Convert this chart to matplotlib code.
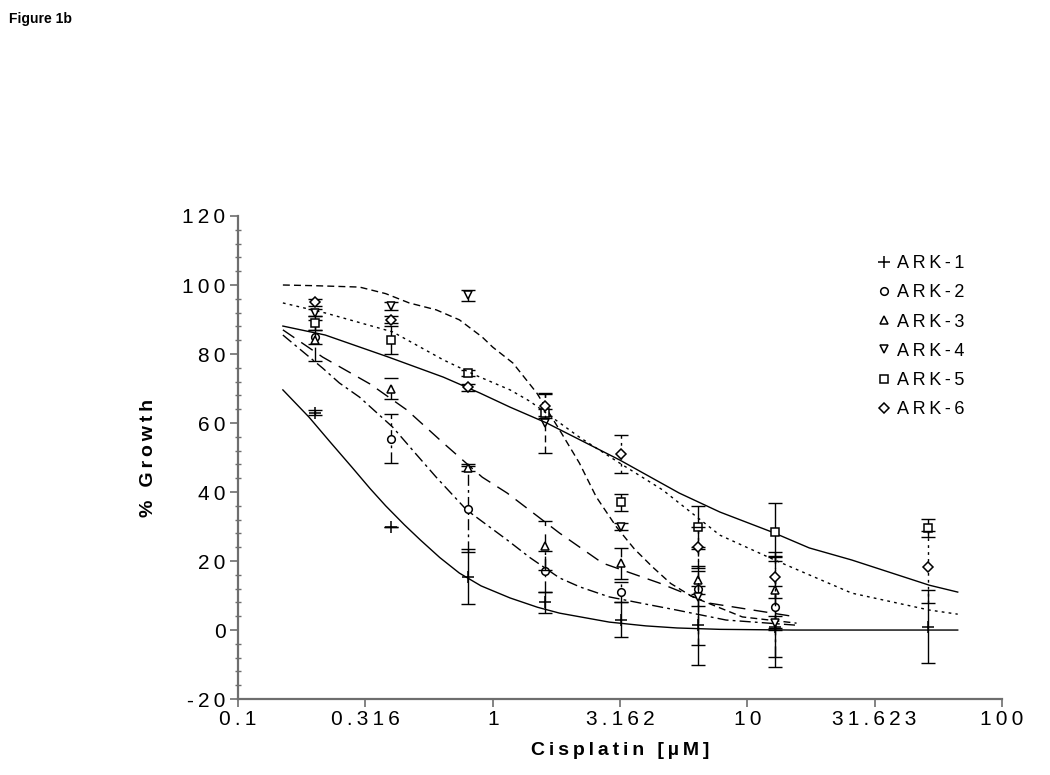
import numpy as np
import matplotlib
matplotlib.use("Agg")
import matplotlib.pyplot as plt
from matplotlib.ticker import FixedLocator, MultipleLocator, NullLocator, FuncFormatter

plt.rcParams['font.family'] = ['Liberation Sans', 'DejaVu Sans']
plt.rcParams['axes.unicode_minus'] = False

# ---- measured points (concentration in uM, % growth, +/- error) ----
conc = [0.2, 0.4, 0.8, 1.6, 3.2, 6.4, 12.8, 51.2]
conc_short = [0.2, 0.4, 0.8, 1.6, 3.2, 6.4, 12.8]

ark1_y = [63, 30, 15.5, 8, 3, 1.4, 1, 1]
ark1_err = [0.7, 0, 8, 3, 5, 11.5, 11.7, 10.5]
ark2_y = [85, 55.5, 35, 17, 11, 12, 6.7]
ark2_err = [2, 7, 12.5, 6, 3, 5, 14.5]
ark3_y = [84, 70, 47, 24.5, 19.4, 14.5, 11.6]
ark3_err = [6, 3, 1, 7, 4.5, 4, 11]
ark4_y = [92, 94, 97, 60, 30, 9.6, 2]
ark4_err = [1, 1.2, 1.5, 8.7, 1, 14, 2]
ark5_y = [89, 84, 74.5, 63, 37, 30, 28.4, 29.6]
ark5_err = [2, 4, 1, 1, 2.5, 6, 8.4, 2.6]
ark6_y = [95, 90, 70.4, 65, 51, 24, 15.4, 18.3]
ark6_err = [1, 1, 1, 3.5, 5.5, 6, 6, 10.5]

# ---- fitted curves ----
ark1_fit_x = [0.15, 0.19, 0.23, 0.28, 0.33, 0.38, 0.45, 0.52, 0.62, 0.74, 0.9, 1.17, 1.5,
              1.83, 2.87, 4.0, 5.3, 7.8, 15, 30, 67]
ark1_fit_y = [69.6, 61.7, 54.5, 47.2, 41, 36, 30.5, 26.1, 21, 16.5, 12.8, 9.3, 6.6,
              4.9, 2.3, 1.2, 0.6, 0.2, 0, 0, 0]
ark2_fit_x = [0.15, 0.215, 0.25, 0.30, 0.405, 0.5, 0.60, 0.79, 1.14, 1.4, 1.83, 2.2, 2.87,
              4.0, 5.27, 8.25, 15.6]
ark2_fit_y = [85.5, 75.9, 71.6, 67.5, 58.8, 51, 44.3, 34.8, 26.1, 21, 15.1, 12.5, 9.6,
              7.5, 5.8, 2.9, 1.4]
ark3_fit_x = [0.15, 0.215, 0.33, 0.46, 0.64, 0.74, 0.91, 1.14, 1.83, 2.70, 4.52, 7.08, 15.6]
ark3_fit_y = [87, 79.1, 71.3, 63.8, 54.2, 50.1, 44.3, 39.7, 28.1, 19.4, 13.6, 7.8, 3.8]
ark4_fit_x = [0.15, 0.2, 0.30, 0.38, 0.47, 0.6, 0.74, 0.91, 1.0, 1.20, 1.49, 1.83, 2.19,
              2.55, 3.06, 3.6, 4.24, 5.0, 6.10, 9.56, 15.6]
ark4_fit_y = [100, 99.8, 99.4, 97.5, 94.8, 92.8, 89.9, 84.9, 82.0, 77.4, 68.7, 58.0, 48.4,
              38.6, 29.9, 23.5, 18.3, 13.5, 9.6, 3.8, 2.0]
ark5_fit_x = [0.15, 0.22, 0.39, 0.64, 0.89, 1.17, 1.63, 3.15, 5.4, 7.8, 12.5, 17.5, 25.7, 51.8, 67]
ark5_fit_y = [88.1, 85.5, 79.1, 73.3, 68.7, 64.6, 60.0, 49.3, 39.7, 34.2, 28.4, 23.8, 20.3, 13.0, 11.0]
ark6_fit_x = [0.15, 0.22, 0.405, 0.64, 0.86, 1.17, 1.40, 2.19, 3.15, 4.65, 6.4, 7.8, 12.8,
              25.7, 51.8, 67]
ark6_fit_y = [94.8, 91.9, 86.4, 78.3, 73.8, 69.6, 66.3, 55.9, 48.4, 40.6, 32.5, 27.5, 20.3,
              10.7, 5.8, 4.6]

labels = ["ARK-1", "ARK-2", "ARK-3", "ARK-4", "ARK-5", "ARK-6"]
x_ticks = [0.1, 0.316, 1, 3.162, 10, 31.623, 100]
x_ticklabels = ["0.1", "0.316", "1", "3.162", "10", "31.623", "100"]


def spaced(s):
    # the original typesetting is letter-spaced
    return "\u2009".join(s)


series = [
    (conc, ark1_y, ark1_err, ark1_fit_x, ark1_fit_y, "+", "-"),
    (conc_short, ark2_y, ark2_err, ark2_fit_x, ark2_fit_y, "o", (0, (8, 3, 2, 3))),
    (conc_short, ark3_y, ark3_err, ark3_fit_x, ark3_fit_y, "^", (0, (10, 6))),
    (conc_short, ark4_y, ark4_err, ark4_fit_x, ark4_fit_y, "v", (0, (5, 3))),
    (conc, ark5_y, ark5_err, ark5_fit_x, ark5_fit_y, "s", "-"),
    (conc, ark6_y, ark6_err, ark6_fit_x, ark6_fit_y, "D", (0, (2, 3))),
]

fig = plt.figure(figsize=(10.5, 7.75), dpi=100)
ax = fig.add_axes([0.2267, 0.098, 0.7276, 0.6233])

handles = []
for (xs, ys, es, fx, fy, mk, ls), lab in zip(series, labels):
    ax.plot(fx, fy, color="black", linewidth=1.0, linestyle=ls)
    eb = ax.errorbar(xs, ys, yerr=es, fmt="none", ecolor="black",
                     elinewidth=1.0, capsize=5, capthick=1.0)
    eb[2][0].set_linestyle(ls)
    ms = 8 if mk == "+" else 5.5
    h, = ax.plot(xs, ys, linestyle="none", marker=mk, markersize=ms,
                 markerfacecolor="white", markeredgecolor="black",
                 markeredgewidth=1.1, label=spaced(lab))
    handles.append(h)

ax.set_xscale("log")
ax.set_xlim(0.1, 100)
ax.set_ylim(-20, 120)
ax.xaxis.set_major_locator(FixedLocator(x_ticks))
ax.xaxis.set_minor_locator(NullLocator())
ax.set_xticklabels([spaced(t) for t in x_ticklabels])
ax.yaxis.set_major_locator(MultipleLocator(20))
ax.yaxis.set_minor_locator(MultipleLocator(4))
ax.yaxis.set_major_formatter(FuncFormatter(lambda v, p: spaced(f"{v:g}")))

for side in ["top", "right"]:
    ax.spines[side].set_visible(False)
for side in ["left", "bottom"]:
    ax.spines[side].set_color("#6e6e6e")
    ax.spines[side].set_linewidth(1.6)

ax.tick_params(axis="both", which="major", labelsize=15, colors="#6e6e6e",
               labelcolor="black", length=6, width=1.2, direction="out")
ax.tick_params(axis="y", which="minor", length=4, width=1.0,
               colors="#6e6e6e", direction="inout")
ax.tick_params(axis="y", which="major", pad=3)
ax.tick_params(axis="x", which="major", pad=2)

ax.set_ylabel(spaced("% Growth"), fontsize=14, fontweight="bold", labelpad=18)
ax.set_xlabel(spaced("Cisplatin [µM]"), fontsize=14, fontweight="bold", labelpad=9)

ax.legend(handles=handles, loc="upper left", bbox_to_anchor=(0.815, 0.953),
          frameon=False, fontsize=13, handlelength=0.8, handletextpad=0.3,
          labelspacing=0.68, markerscale=1.0)

fig.text(0.009, 0.985, "Figure 1b", fontsize=10, fontweight="bold", va="top")

fig.savefig("out.png", dpi=100, facecolor="white")
